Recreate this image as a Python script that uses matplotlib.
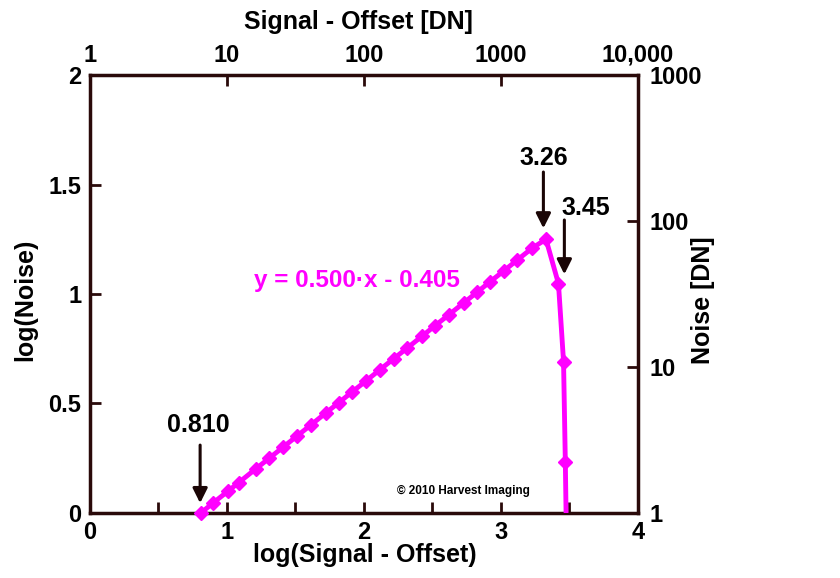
import matplotlib
matplotlib.use("Agg")
import matplotlib.pyplot as plt
from matplotlib import font_manager

avail = {f.name for f in font_manager.fontManager.ttflist}
NARROW = 'Liberation Sans Narrow' if 'Liberation Sans Narrow' in avail else 'Liberation Sans'
plt.rcParams['font.family'] = [NARROW, 'DejaVu Sans']

# ---- data ----
log_signal = [0.811, 0.903, 1.008, 1.086, 1.215, 1.312, 1.414, 1.512, 1.616, 1.723,
              1.818, 1.915, 2.018, 2.115, 2.217, 2.314, 2.424, 2.521, 2.618, 2.728,
              2.826, 2.923, 3.020, 3.117, 3.227, 3.329, 3.420, 3.457, 3.470, 3.480]
log_noise = [0.000, 0.047, 0.099, 0.138, 0.203, 0.251, 0.302, 0.351, 0.403, 0.457,
             0.504, 0.553, 0.604, 0.653, 0.704, 0.752, 0.807, 0.856, 0.904, 0.959,
             1.008, 1.057, 1.105, 1.154, 1.209, 1.250, 1.047, 0.691, 0.234, -0.200]

left_ticks = [0, 0.5, 1, 1.5, 2]
left_labels = ['0', '0.5', '1', '1.5', '2']
top_ticks = [1, 10, 100, 1000, 10000]
top_labels = ['1', '10', '100', '1000', '10,000']
right_ticks = [1, 10, 100, 1000]
right_labels = ['1', '10', '100', '1000']

annotations = [  # (label, x of arrow, arrow top y, arrow tip y, text x, text y)
    ('0.810', 0.806, 0.31, 0.045, 0.79, 0.40),
    ('3.26', 3.31, 1.557, 1.30, 3.31, 1.62),
    ('3.45', 3.463, 1.338, 1.09, 3.62, 1.393),
]
equation = 'y = 0.500·x - 0.405'

MAG = '#FF00FF'
DARK = '#2A0A0A'
TS = 17

fig = plt.figure(figsize=(8.4, 5.78), dpi=100)
ax = fig.add_axes([0.1067, 0.1125, 0.6528, 0.7577])

ax.plot(log_signal, log_noise, color=MAG, lw=3.5, clip_on=True, zorder=3)
visible = [i for i, v in enumerate(log_noise) if v >= 0]
ax.plot([log_signal[i] for i in visible], [log_noise[i] for i in visible],
        ls='none', marker='D', ms=7.5, color=MAG, clip_on=False, zorder=4)

ax.set_xlim(0, 4)
ax.set_ylim(0, 2)
ax.set_xticks([0, 0.5, 1, 1.5, 2, 2.5, 3, 3.5, 4])
ax.set_xticklabels(['0', '', '1', '', '2', '', '3', '', '4'])
ax.set_yticks(left_ticks)
ax.set_yticklabels(left_labels)
for s in ax.spines.values():
    s.set_color(DARK)
    s.set_linewidth(2.5)
ax.tick_params(axis='both', direction='in', length=8, width=2, color=DARK,
               labelsize=TS)
ax.tick_params(axis='y', pad=6)
ax.tick_params(axis='x', pad=6)
for lab in ax.get_xticklabels() + ax.get_yticklabels():
    lab.set_fontweight('bold')

# top log axis
axt = ax.twiny()
axt.set_xscale('log')
axt.set_xlim(1, 10000)
axt.set_xticks(top_ticks)
axt.set_xticklabels(top_labels)
axt.xaxis.set_minor_locator(matplotlib.ticker.NullLocator())
axt.tick_params(axis='x', direction='in', length=8, width=2, color=DARK,
                labelsize=TS, pad=6)
for lab in axt.get_xticklabels():
    lab.set_fontweight('bold')
for s in axt.spines.values():
    s.set_visible(False)

# right log axis
axr = ax.twinx()
axr.set_yscale('log')
axr.set_ylim(1, 1000)
axr.set_yticks(right_ticks)
axr.set_yticklabels(right_labels)
axr.yaxis.set_minor_locator(matplotlib.ticker.NullLocator())
axr.tick_params(axis='y', direction='in', length=8, width=2, color=DARK,
                labelsize=TS, pad=8)
for lab in axr.get_yticklabels():
    lab.set_fontweight('bold')
for s in axr.spines.values():
    s.set_visible(False)

# axis titles
fig.text(365 / 840, 1 - 555 / 578, 'log(Signal - Offset)', ha='center', va='center',
         fontsize=18, fontweight='bold')
fig.text(358 / 840, 1 - 22 / 578, 'Signal - Offset [DN]', ha='center', va='center',
         fontsize=18, fontweight='bold')
fig.text(25 / 840, 1 - 300 / 578, 'log(Noise)', ha='center', va='center',
         rotation=90, fontsize=18, fontweight='bold')
fig.text(703 / 840, 1 - 300 / 578, 'Noise [DN]', ha='center', va='center',
         rotation=90, fontsize=18, fontweight='bold')

for label, xa, y0, y1, tx, ty in annotations:
    ax.annotate('', xy=(xa, y1), xytext=(xa, y0),
                arrowprops=dict(arrowstyle='-|>', color='#1A0505', lw=2.2,
                                mutation_scale=22, shrinkA=0, shrinkB=0),
                zorder=5)
    ax.text(tx, ty, label, ha='center', va='center', fontsize=18,
            fontweight='bold', color='black')

ax.text(1.953, 1.06, equation, ha='center', va='center', fontsize=17.5,
        fontweight='bold', color=MAG)
ax.text(2.725, 0.10, '© 2010 Harvest Imaging', ha='center', va='center',
        fontsize=8.5, fontweight='bold', color='black')

fig.savefig('out.png', dpi=100)
